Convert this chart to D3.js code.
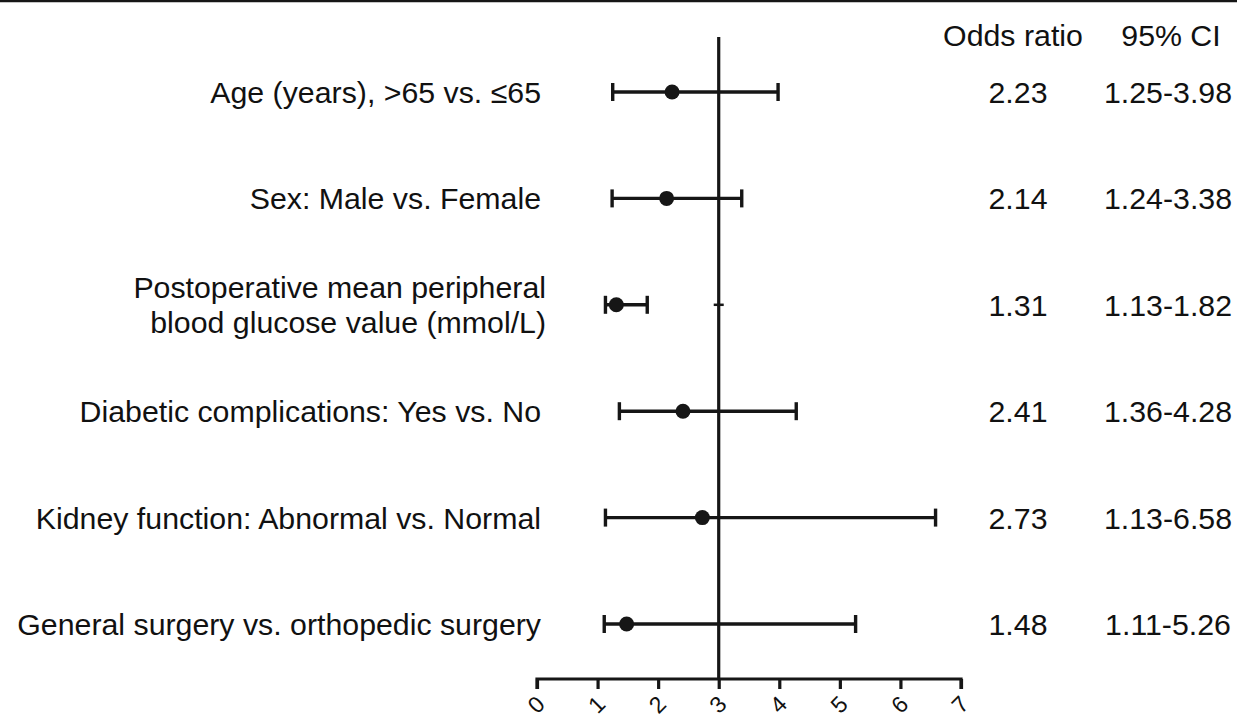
<!DOCTYPE html>
<html>
<head>
<meta charset="utf-8">
<script src="https://cdn.jsdelivr.net/npm/d3@7"></script>
<style>
  html, body { margin: 0; padding: 0; background: #fff; }
  svg { display: block; }
  text { font-family: "Liberation Sans", Arial, sans-serif; fill: #111; }
</style>
</head>
<body>
<svg id="chart" width="1237" height="719"></svg>
<script>
// ---- data ----
const categories = [
  ["Age (years), >65 vs. ≤65"],
  ["Sex: Male vs. Female"],
  ["Postoperative mean peripheral", "blood glucose value (mmol/L)"],
  ["Diabetic complications: Yes vs. No"],
  ["Kidney function: Abnormal vs. Normal"],
  ["General surgery vs. orthopedic surgery"]
];
const oddsRatio = [2.23, 2.14, 1.31, 2.41, 2.73, 1.48];
const ciLower   = [1.25, 1.24, 1.13, 1.36, 1.13, 1.11];
const ciUpper   = [3.98, 3.38, 1.82, 4.28, 6.58, 5.26];
const orLabels  = ["2.23", "2.14", "1.31", "2.41", "2.73", "1.48"];
const ciLabels  = ["1.25-3.98", "1.24-3.38", "1.13-1.82", "1.36-4.28", "1.13-6.58", "1.11-5.26"];
const tickValues = [0, 1, 2, 3, 4, 5, 6, 7];
const referenceValue = 3;
const headers = ["Odds ratio", "95% CI"];

// ---- layout ----
const ink = "#161616";
const svg = d3.select("#chart");
const x = d3.scaleLinear().domain([0, 7]).range([537, 961]);
const y = d3.scalePoint().domain(d3.range(categories.length)).range([92, 624]);
const axisY = 679;
const fontSize = 30.3;

// top border
svg.append("line").attr("x1", 0).attr("x2", 1237).attr("y1", 1).attr("y2", 1)
  .attr("stroke", ink).attr("stroke-width", 2.5);

// reference line
svg.append("line")
  .attr("x1", x(referenceValue)).attr("x2", x(referenceValue))
  .attr("y1", 37).attr("y2", axisY)
  .attr("stroke", ink).attr("stroke-width", 3.2);

// small mark on reference line at row 3
svg.append("line")
  .attr("x1", x(referenceValue) - 5).attr("x2", x(referenceValue) + 5)
  .attr("y1", y(2)).attr("y2", y(2))
  .attr("stroke", ink).attr("stroke-width", 2.5);

// axis
const axis = d3.axisBottom(x).tickValues(tickValues).tickSize(10).tickSizeOuter(0)
  .tickFormat(d3.format("d"));
const gAxis = svg.append("g").attr("transform", `translate(0,${axisY})`).call(axis);
gAxis.select(".domain").attr("stroke", ink).attr("stroke-width", 3.2)
  .attr("d", `M${x(0)},10V0H${x(7)}V10`);
gAxis.selectAll(".tick line").attr("stroke", ink).attr("stroke-width", 3.2);
gAxis.selectAll(".tick text")
  .attr("y", 0).attr("dy", 0)
  .attr("transform", "translate(0,27) rotate(-45)")
  .attr("text-anchor", "middle")
  .attr("dominant-baseline", "middle")
  .style("font-size", "23px")
  .style("font-family", "\"Liberation Sans\", Arial, sans-serif")
  .attr("fill", "#111");

// rows
const rows = svg.append("g").selectAll("g").data(categories).join("g")
  .attr("transform", (d, i) => `translate(0,${y(i)})`);

rows.append("line")
  .attr("x1", (d, i) => x(ciLower[i])).attr("x2", (d, i) => x(ciUpper[i]))
  .attr("stroke", ink).attr("stroke-width", 3.4);
rows.append("line")
  .attr("x1", (d, i) => x(ciLower[i])).attr("x2", (d, i) => x(ciLower[i]))
  .attr("y1", -9).attr("y2", 9)
  .attr("stroke", ink).attr("stroke-width", 3.4);
rows.append("line")
  .attr("x1", (d, i) => x(ciUpper[i])).attr("x2", (d, i) => x(ciUpper[i]))
  .attr("y1", -9).attr("y2", 9)
  .attr("stroke", ink).attr("stroke-width", 3.4);
rows.append("circle")
  .attr("cx", (d, i) => x(oddsRatio[i])).attr("cy", 0).attr("r", 7.5)
  .attr("fill", ink);

// category labels
rows.each(function (d) {
  const g = d3.select(this);
  const lh = 35;
  const start = -(d.length - 1) * lh / 2;
  d.forEach((line, k) => {
    g.append("text")
      .attr("x", d.length > 1 ? 546 : 541)
      .attr("y", start + k * lh)
      .attr("dy", "0.36em")
      .attr("text-anchor", "end")
      .style("font-size", fontSize + "px")
      .text(line);
  });
});

// value columns
rows.append("text")
  .attr("x", 1018).attr("y", 0).attr("dy", "0.36em")
  .attr("text-anchor", "middle").style("font-size", fontSize + "px")
  .text((d, i) => orLabels[i]);
rows.append("text")
  .attr("x", 1168).attr("y", 0).attr("dy", "0.36em")
  .attr("text-anchor", "middle").style("font-size", fontSize + "px")
  .text((d, i) => ciLabels[i]);

// headers
svg.append("text").attr("x", 1013).attr("y", 46).attr("text-anchor", "middle")
  .style("font-size", fontSize + "px").text(headers[0]);
svg.append("text").attr("x", 1171).attr("y", 46).attr("text-anchor", "middle")
  .style("font-size", fontSize + "px").text(headers[1]);
</script>
</body>
</html>
